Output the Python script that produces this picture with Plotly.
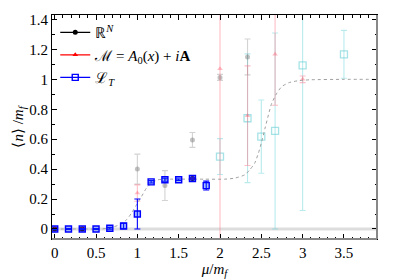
import plotly.graph_objects as go

# ---- data ----
# R^N (black), solid points
rn_mu = [0.0, 1/3, 5/3]
rn_n = [0.0, 0.0, 0.337]
rn_err = [0.004, 0.004, 0.005]
# R^N faded points
rn_f_mu = [1.0, 4/3, 5/3, 2.0, 7/3]
rn_f_n = [0.40, 0.29, 0.595, 1.013, 1.15]
rn_f_err = [0.10, 0.10, 0.05, 0.02, 0.12]

# M = A0(x) + iA (red), solid points
m_mu = [0.0, 1/3, 5/3]
m_n = [0.0, 0.0, 0.337]
m_err = [0.004, 0.004, 0.005]
# faded
m_f_mu = [1.0, 2.0, 7/3, 8/3, 3.0]
m_f_n = [0.24, 1.07, 0.757, 1.167, 1.0]
m_f_err = [0.055, 1.6, 0.333, 0.34, 0.022]

# L_T (blue), solid points
lt_mu = [0.0, 1/6, 1/3, 0.5, 2/3, 5/6, 1.0, 7/6, 4/3, 1.5, 5/3, 11/6]
lt_n = [0.0, 0.0, 0.0, 0.0, 0.005, 0.02, 0.10, 0.315, 0.329, 0.329, 0.337, 0.29]
lt_err = [0.003, 0.003, 0.003, 0.003, 0.006, 0.018, 0.10, 0.008, 0.01, 0.005, 0.005, 0.03]
# faded
lt_f_mu = [2.0, 7/3, 2.5, 8/3, 3.0, 3.5]
lt_f_n = [0.484, 0.74, 0.617, 0.655, 1.093, 1.167]
lt_f_err = [0.12, 0.43, 0.245, 0.655, 0.97, 0.16]

# dotted reference curve
curve_mu = [0.0, 0.3, 0.55, 0.67, 0.79, 0.87, 0.93, 0.99, 1.05, 1.11, 1.17, 1.25, 1.4, 1.8,
            2.06, 2.18, 2.30, 2.36, 2.42, 2.465, 2.505, 2.545, 2.586, 2.626, 2.687, 2.747,
            2.83, 2.95, 3.09, 3.5, 3.9]
curve_n = [0.0, 0.0, 0.0, 0.007, 0.03, 0.062, 0.107, 0.162, 0.217, 0.273, 0.307, 0.329, 0.333, 0.333,
           0.333, 0.34, 0.362, 0.395, 0.44, 0.507, 0.584, 0.673, 0.762, 0.84, 0.907, 0.951,
           0.977, 0.991, 0.997, 1.0, 1.0]

x_ticks = [0, 0.5, 1, 1.5, 2, 2.5, 3, 3.5]
x_ticklabels = ["0", "0.5", "1", "1.5", "2", "2.5", "3", "3.5"]
y_ticks = [0, 0.2, 0.4, 0.6, 0.8, 1.0, 1.2, 1.4]
y_ticklabels = ["0", "0.2", "0.4", "0.6", "0.8", "1", "1.2", "1.4"]

SERIF = "Liberation Serif, Times New Roman, serif"

NAME_RN = "ℝ<sup><i>N</i></sup>"
NAME_M = "ℳ = <i>A</i><sub>0</sub>(<i>x</i>) + <i>i</i><b>A</b>"
NAME_LT = "ℒ<sub><i>T</i></sub>"

fig = go.Figure()


def err(vals, color, width=3):
    return dict(type="data", array=vals, visible=True, color=color, thickness=1.1, width=width)


# faded traces
fig.add_trace(go.Scatter(x=lt_f_mu, y=lt_f_n, mode="markers", showlegend=False,
                         marker=dict(symbol="square-open", size=7, color="rgba(80,200,205,0.5)",
                                     line=dict(width=1.3)),
                         error_y=err(lt_f_err, "rgba(80,205,210,0.4)")))
fig.add_trace(go.Scatter(x=rn_f_mu, y=rn_f_n, mode="markers", showlegend=False,
                         marker=dict(symbol="circle", size=5, color="rgba(120,120,120,0.45)"),
                         error_y=err(rn_f_err, "rgba(130,130,130,0.35)")))
fig.add_trace(go.Scatter(x=m_f_mu, y=m_f_n, mode="markers", showlegend=False,
                         marker=dict(symbol="triangle-up", size=5, color="rgba(255,90,110,0.4)"),
                         error_y=err(m_f_err, "rgba(255,110,130,0.45)")))

# reference curve
fig.add_trace(go.Scatter(x=curve_mu, y=curve_n, mode="lines", showlegend=False,
                         line=dict(color="#a0a0a0", width=1, dash="dot", shape="spline", smoothing=0.6)))

# main traces (markers only on the plot)
fig.add_trace(go.Scatter(x=rn_mu, y=rn_n, mode="markers", showlegend=False,
                         marker=dict(symbol="circle", size=5, color="black"),
                         error_y=err(rn_err, "black")))
fig.add_trace(go.Scatter(x=m_mu, y=m_n, mode="markers", showlegend=False,
                         marker=dict(symbol="triangle-up", size=5, color="#c00000"),
                         error_y=err(m_err, "red")))
fig.add_trace(go.Scatter(x=lt_mu, y=lt_n, mode="markers", showlegend=False,
                         marker=dict(symbol="square", size=6, color="rgba(0,60,255,0.35)",
                                     line=dict(color="blue", width=1.4)),
                         error_y=err(lt_err, "blue")))

# legend entries (line + marker symbol)
fig.add_trace(go.Scatter(x=[None], y=[None], mode="lines+markers", name=NAME_RN,
                         line=dict(color="black", width=1.2),
                         marker=dict(symbol="circle", size=5, color="black")))
fig.add_trace(go.Scatter(x=[None], y=[None], mode="lines+markers", name=NAME_M,
                         line=dict(color="red", width=1.2),
                         marker=dict(symbol="triangle-up", size=5, color="red")))
fig.add_trace(go.Scatter(x=[None], y=[None], mode="lines+markers", name=NAME_LT,
                         line=dict(color="blue", width=1.2),
                         marker=dict(symbol="square-open", size=6, color="blue", line=dict(width=1.4))))

# the page body has an 8px margin, so the figure is sized to fit the 399x279 window
fig.update_layout(
    width=391, height=271,
    margin=dict(l=44, r=22, t=7, b=40),
    paper_bgcolor="white", plot_bgcolor="white",
    font=dict(family=SERIF, size=15, color="black"),
    showlegend=True,
    legend=dict(x=0.01, y=0.995, xanchor="left", yanchor="top", bgcolor="rgba(0,0,0,0)",
                font=dict(family=SERIF, size=15), tracegroupgap=0),
    shapes=[
        dict(type="line", xref="paper", x0=0, x1=1, yref="y", y0=0, y1=0,
             line=dict(color="#dddddd", width=3), layer="below"),
        dict(type="line", xref="paper", x0=1, x1=1, yref="paper", y0=0, y1=1,
             line=dict(color="#888888", width=2)),
        dict(type="line", xref="paper", x0=0, x1=1, yref="paper", y0=0, y1=0,
             line=dict(color="#888888", width=2)),
    ],
)

fig.update_xaxes(
    range=[-0.033, 3.9], tickmode="array", tickvals=x_ticks, ticktext=x_ticklabels,
    showgrid=False, zeroline=False, showline=True, linecolor="black", linewidth=1, mirror="ticks",
    ticks="inside", ticklen=5, tickcolor="black", automargin=False,
    minor=dict(dtick=0.1, ticks="inside", ticklen=2.5, tickcolor="black", showgrid=False),
    title=dict(text="<i>μ</i>/<i>m<sub>f</sub></i>", standoff=0, font=dict(size=15, family=SERIF)),
    tickfont=dict(size=15, family=SERIF),
)
fig.update_yaxes(
    range=[-0.067, 1.43], tickmode="array", tickvals=y_ticks, ticktext=y_ticklabels,
    showgrid=False, zeroline=False, showline=True, linecolor="black", linewidth=1, mirror="ticks",
    ticks="inside", ticklen=5, tickcolor="black", automargin=False,
    minor=dict(dtick=0.1, ticks="inside", ticklen=2.5, tickcolor="black", showgrid=False),
    title=dict(text="⟨<i>n</i>⟩ /<i>m<sub>f</sub></i>", standoff=2, font=dict(size=15, family=SERIF)),
    tickfont=dict(size=15, family=SERIF),
)

fig.write_html("out.html")
